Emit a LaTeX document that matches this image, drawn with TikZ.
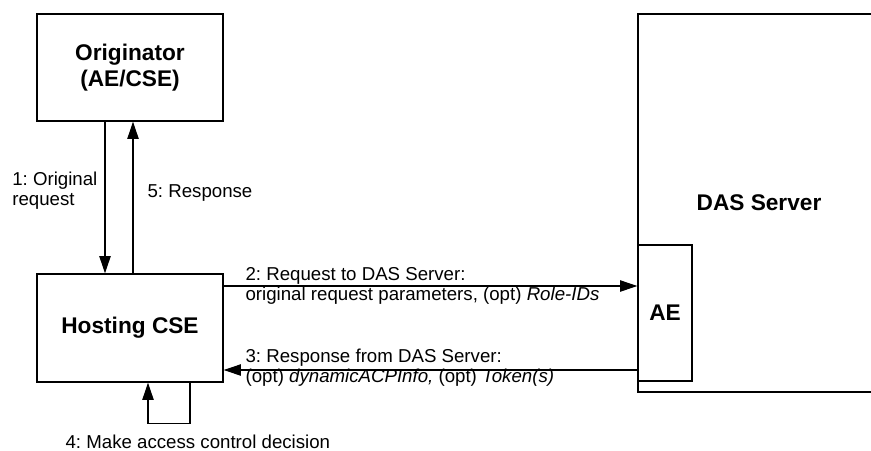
\documentclass[tikz,border=0pt]{standalone}
\usepackage{fontspec}
\setmainfont{Liberation Sans}
\usetikzlibrary{arrows.meta}
\frenchspacing
\begin{document}
\begin{tikzpicture}[x=0.75pt, y=-0.75pt, line width=0.9pt,
  >={Triangle[length=13pt,width=8.5pt]},
  font=\fontsize{14}{15}\selectfont,
  box/.style={draw, inner sep=0pt, align=center, font=\fontsize{17}{19.5}\selectfont\bfseries},
  lbl/.style={inner sep=0pt, align=left}]
\useasboundingbox (0,0) rectangle (871,450);
\node[box, minimum width=139.5pt, minimum height=80.25pt] (orig) at (130,67.5) {Originator\\(AE/CSE)};
\node[box, minimum width=139.5pt, minimum height=81pt] (host) at (130,328) {Hosting CSE};
\node[box, minimum width=181.5pt, minimum height=283.5pt] (das) at (759,203) {DAS Server};
\node[box, minimum width=40.5pt, minimum height=102pt] (ae) at (665,313) {AE};
\draw[->] (orig.south -| 105,0) -- (host.north -| 105,0);
\draw[->] (host.north -| 133,0) -- (orig.south -| 133,0);
\draw[->] (host.east |- 0,286) -- (ae.west |- 0,286);
\draw[->] (ae.west |- 0,370) -- (host.east |- 0,370);
\draw[->] (host.south -| 190,0) -- ++(0,41) -| (host.south -| 148,0);
\node[lbl, anchor=east] (lbl1) at (98,191) {1: Original\\request};
\node[lbl, anchor=base west] (lbl5) at (147,197) {5: Response};
\node[lbl, anchor=west] (lbl2) at (245,286) {2: Request to DAS Server:\\original request parameters, (opt) \textit{Role-IDs}};
\node[lbl, anchor=west] (lbl3) at (245,368) {3: Response from DAS Server:\\(opt) \textit{dynamicACPInfo,} (opt) \textit{Token(s)}};
\node[lbl, anchor=base west] (lbl4) at (65,448) {4: Make access control decision};
\end{tikzpicture}
\end{document}
